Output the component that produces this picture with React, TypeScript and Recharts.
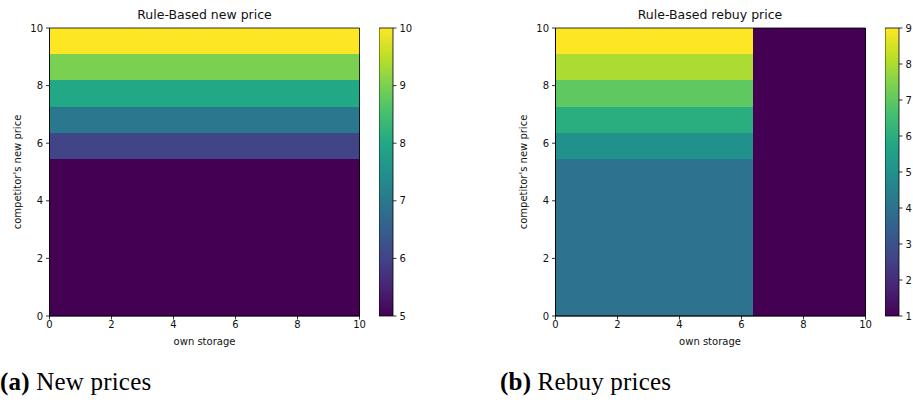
import React from 'react'
import { ComposedChart, XAxis, YAxis, ReferenceArea } from 'recharts'

// cell edges of the 11x11 rule grid (same on both axes)
const gridEdges = [0, 0.909, 1.818, 2.727, 3.636, 4.545, 5.455, 6.364, 7.273, 8.182, 9.091, 10]
const axisTicks = [0, 2, 4, 6, 8, 10]

// one row per competitor price cell, bottom row first; columns follow own storage
const newPriceRows = [
  [5, 5, 5, 5, 5, 5, 5, 5, 5, 5, 5],
  [5, 5, 5, 5, 5, 5, 5, 5, 5, 5, 5],
  [5, 5, 5, 5, 5, 5, 5, 5, 5, 5, 5],
  [5, 5, 5, 5, 5, 5, 5, 5, 5, 5, 5],
  [5, 5, 5, 5, 5, 5, 5, 5, 5, 5, 5],
  [5, 5, 5, 5, 5, 5, 5, 5, 5, 5, 5],
  [6, 6, 6, 6, 6, 6, 6, 6, 6, 6, 6],
  [7, 7, 7, 7, 7, 7, 7, 7, 7, 7, 7],
  [8, 8, 8, 8, 8, 8, 8, 8, 8, 8, 8],
  [9, 9, 9, 9, 9, 9, 9, 9, 9, 9, 9],
  [10, 10, 10, 10, 10, 10, 10, 10, 10, 10, 10],
]

const rebuyPriceRows = [
  [4, 4, 4, 4, 4, 4, 4, 1, 1, 1, 1],
  [4, 4, 4, 4, 4, 4, 4, 1, 1, 1, 1],
  [4, 4, 4, 4, 4, 4, 4, 1, 1, 1, 1],
  [4, 4, 4, 4, 4, 4, 4, 1, 1, 1, 1],
  [4, 4, 4, 4, 4, 4, 4, 1, 1, 1, 1],
  [4, 4, 4, 4, 4, 4, 4, 1, 1, 1, 1],
  [5, 5, 5, 5, 5, 5, 5, 1, 1, 1, 1],
  [6, 6, 6, 6, 6, 6, 6, 1, 1, 1, 1],
  [7, 7, 7, 7, 7, 7, 7, 1, 1, 1, 1],
  [8, 8, 8, 8, 8, 8, 8, 1, 1, 1, 1],
  [9, 9, 9, 9, 9, 9, 9, 1, 1, 1, 1],
]

const newPriceTicks = [5, 6, 7, 8, 9, 10]
const rebuyPriceTicks = [1, 2, 3, 4, 5, 6, 7, 8, 9]

// viridis colormap stops
const VIRIDIS = [
  '#440154', '#482475', '#414487', '#355f8d', '#2a788e', '#21918c',
  '#22a884', '#44bf70', '#7ad151', '#bddf26', '#fde725',
]

const hex = (c: string) => [1, 3, 5].map((i) => parseInt(c.slice(i, i + 2), 16))

function viridis(t: number) {
  const p = Math.max(0, Math.min(1, t)) * (VIRIDIS.length - 1)
  const i = Math.min(Math.floor(p), VIRIDIS.length - 2)
  const f = p - i
  const a = hex(VIRIDIS[i])
  const b = hex(VIRIDIS[i + 1])
  const rgb = a.map((v, k) => Math.round(v + (b[k] - v) * f))
  return `rgb(${rgb.join(',')})`
}

// merge equal neighbours into rectangles so no seams show between cells
function toBlocks(rows: number[][]) {
  const runs: { c0: number; c1: number; r0: number; r1: number; v: number }[] = []
  rows.forEach((row, r) => {
    let c0 = 0
    for (let c = 1; c <= row.length; c++) {
      if (c === row.length || row[c] !== row[c0]) {
        const prev = runs.find((b) => b.r1 === r && b.c0 === c0 && b.c1 === c && b.v === row[c0])
        if (prev) prev.r1 = r + 1
        else runs.push({ c0, c1: c, r0: r, r1: r + 1, v: row[c0] })
        c0 = c
      }
    }
  })
  return runs
}

// plain rect without antialiased edges
const CellRect = (props: any) => (
  <rect
    x={props.x}
    y={props.y}
    width={props.width}
    height={props.height}
    fill={props.fill}
    shapeRendering="crispEdges"
  />
)

const FONT = '"DejaVu Sans", sans-serif'
const INK = '#111'
const tickStyle = { fill: INK, fontSize: 10, fontFamily: FONT }

const PLOT_TOP = 28
const PLOT_H = 288
const PLOT_W = 310
const CHART_H = 356
const AXIS_H = CHART_H - PLOT_TOP - PLOT_H

interface HeatmapPanelProps {
  id: string
  left: number
  title: string
  rows: number[][]
  vmin: number
  vmax: number
  barTicks: number[]
}

function HeatmapPanel({ id, left, title, rows, vmin, vmax, barTicks }: HeatmapPanelProps) {
  const yAxisW = 49.5
  const plotLeft = left + yAxisW
  const barLeft = plotLeft + PLOT_W + 19.5

  const blocks = toBlocks(rows)

  return (
    <>
      <div
        style={{
          position: 'absolute', left: plotLeft, top: 7, width: PLOT_W,
          textAlign: 'center', fontFamily: FONT, fontSize: 12.5, color: INK,
        }}
      >
        {title}
      </div>
      <div style={{ position: 'absolute', left, top: 0 }}>
        <ComposedChart
          width={yAxisW + PLOT_W + 14}
          height={CHART_H}
          margin={{ top: PLOT_TOP, right: 14, bottom: 0, left: 0 }}
        >
          <XAxis
            type="number"
            dataKey="x"
            domain={[0, 10]}
            ticks={axisTicks}
            height={AXIS_H}
            tick={tickStyle}
            tickSize={3.5}
            tickMargin={1}
            stroke="#000"
            strokeWidth={0.8}
            allowDataOverflow
          />
          <YAxis
            type="number"
            dataKey="y"
            domain={[0, 10]}
            ticks={axisTicks}
            width={yAxisW}
            tick={tickStyle}
            tickSize={3.5}
            tickMargin={3}
            stroke="#000"
            strokeWidth={0.8}
            allowDataOverflow
          />
          {blocks.map((b) => (
            <ReferenceArea
              key={`${b.r0}-${b.c0}`}
              x1={gridEdges[b.c0]}
              x2={gridEdges[b.c1]}
              y1={gridEdges[b.r0]}
              y2={gridEdges[b.r1]}
              fill={viridis((b.v - vmin) / (vmax - vmin))}
              fillOpacity={1}
              shape={CellRect}
            />
          ))}
          <ReferenceArea x1={0} x2={10} y1={0} y2={10} fill="none" stroke="#000" strokeWidth={0.8} />
        </ComposedChart>
      </div>
      <div
        style={{
          position: 'absolute', left: plotLeft, top: 336, width: PLOT_W,
          textAlign: 'center', fontFamily: FONT, fontSize: 10, color: INK,
        }}
      >
        own storage
      </div>
      <div
        style={{
          position: 'absolute', left: left + 17, top: PLOT_TOP + PLOT_H / 2,
          transform: 'translate(-50%, -50%) rotate(-90deg)', whiteSpace: 'nowrap',
          fontFamily: FONT, fontSize: 10, color: INK,
        }}
      >
        competitor's new price
      </div>

      {/* colorbar */}
      <div style={{ position: 'absolute', left: barLeft, top: 0 }}>
        <ComposedChart
          width={14 + 30}
          height={CHART_H}
          margin={{ top: PLOT_TOP, right: 0, bottom: 0, left: 0 }}
        >
          <XAxis
            type="number"
            dataKey="x"
            domain={[0, 1]}
            height={AXIS_H}
            tick={false}
            tickLine={false}
            axisLine={false}
            allowDataOverflow
          />
          <YAxis
            type="number"
            dataKey="y"
            orientation="right"
            domain={[vmin, vmax]}
            ticks={barTicks}
            width={30}
            tick={tickStyle}
            tickSize={3.5}
            tickMargin={3}
            axisLine={false}
            stroke="#000"
            strokeWidth={0.8}
            allowDataOverflow
          />
          <ReferenceArea
            x1={0}
            x2={1}
            y1={vmin}
            y2={vmax}
            fill={`url(#cmap-${id})`}
            fillOpacity={1}
            stroke="#000"
            strokeWidth={0.8}
          />
        </ComposedChart>
      </div>
    </>
  )
}

const captionStyle: React.CSSProperties = {
  position: 'absolute',
  top: 368,
  fontFamily: '"Liberation Serif", serif',
  fontSize: 25,
  letterSpacing: 0.2,
  color: '#000',
  whiteSpace: 'nowrap',
}

export default function App() {
  return (
    <div style={{ position: 'absolute', left: 0, top: 0, width: 913, height: 405, background: '#fff', overflow: 'hidden' }}>
      <svg width={0} height={0} style={{ position: 'absolute' }}>
        <defs>
          {['new', 'rebuy'].map((id) => (
            <linearGradient key={id} id={`cmap-${id}`} x1="0" y1="1" x2="0" y2="0">
              {VIRIDIS.map((c, i) => (
                <stop key={c} offset={i / (VIRIDIS.length - 1)} stopColor={c} />
              ))}
            </linearGradient>
          ))}
        </defs>
      </svg>
      <HeatmapPanel
        id="new"
        left={0}
        title="Rule-Based new price"
        rows={newPriceRows}
        vmin={5}
        vmax={10}
        barTicks={newPriceTicks}
      />
      <HeatmapPanel
        id="rebuy"
        left={505.5}
        title="Rule-Based rebuy price"
        rows={rebuyPriceRows}
        vmin={1}
        vmax={9}
        barTicks={rebuyPriceTicks}
      />
      <div style={{ ...captionStyle, left: 0 }}>
        <b>(a)</b> New prices
      </div>
      <div style={{ ...captionStyle, left: 500 }}>
        <b>(b)</b> Rebuy prices
      </div>
    </div>
  )
}
